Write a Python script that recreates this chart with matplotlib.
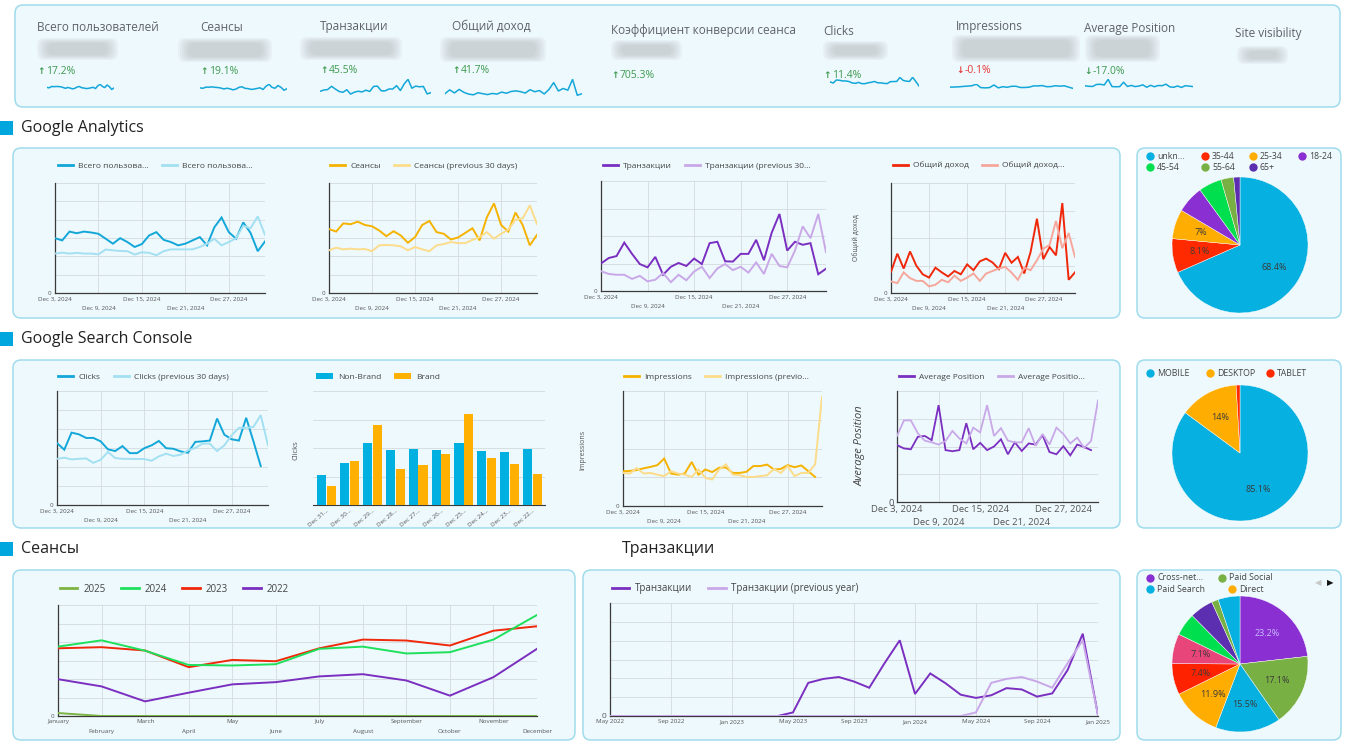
import numpy as np
import matplotlib
matplotlib.use("Agg")
import matplotlib.pyplot as plt
from matplotlib.patches import FancyBboxPatch, Rectangle
from matplotlib.lines import Line2D

W, H = 1353, 753
plt.rcParams["font.family"] = ["Open Sans", "DejaVu Sans"]

# ---------------- data ----------------
kpi_titles = ["Всего пользователей", "Сеансы", "Транзакции", "Общий доход",
              "Коэффициент конверсии сеанса", "Clicks", "Impressions",
              "Average Position", "Site visibility"]
kpi_changes = ["17.2%", "19.1%", "45.5%", "41.7%", "705.3%", "11.4%", "-0.1%", "-17.0%", None]
kpi_up = [True, True, True, True, True, True, False, False, None]
kpi_good = [True, True, True, True, True, True, False, True, None]

day_ticks = [0, 6, 12, 18, 24]
day_labels = ["Dec 3, 2024", "Dec 9, 2024", "Dec 15, 2024", "Dec 21, 2024", "Dec 27, 2024"]

users = [2.99, 2.87, 3.35, 3.26, 3.35, 3.30, 3.23, 2.96, 2.69, 2.99, 2.78, 2.51, 2.67, 3.14, 3.32,
         2.90, 2.78, 2.60, 2.69, 2.87, 3.05, 2.60, 3.58, 4.12, 3.32, 2.96, 3.85, 3.28, 2.28, 2.81]
users_prev = [2.15, 2.20, 2.15, 2.19, 2.15, 2.15, 2.11, 2.37, 2.33, 2.29, 2.28, 2.10, 2.22, 2.19, 2.06,
              2.28, 2.38, 2.38, 2.38, 2.38, 2.51, 2.69, 2.96, 2.60, 2.78, 2.99, 3.67, 3.53, 4.18, 3.17]

sessions = [3.49, 3.35, 3.80, 3.75, 3.89, 3.71, 3.64, 3.41, 3.10, 3.37, 3.14, 2.74, 3.05, 3.71, 3.93,
            3.32, 3.23, 2.92, 3.03, 3.28, 3.53, 2.87, 4.12, 4.89, 3.71, 3.35, 4.39, 3.71, 2.60, 3.17]
sessions_prev = [2.33, 2.47, 2.38, 2.42, 2.38, 2.40, 2.28, 2.60, 2.62, 2.60, 2.55, 2.33, 2.51, 2.38, 2.28,
                 2.60, 2.67, 2.78, 2.72, 2.72, 2.90, 3.05, 3.32, 2.96, 3.23, 3.46, 4.00, 4.07, 4.78, 3.76]

transactions = [1.00, 1.20, 1.27, 1.76, 1.35, 0.98, 0.86, 1.24, 0.59, 0.88, 1.02, 0.91, 1.18, 0.98, 1.74,
                1.79, 1.08, 1.07, 1.35, 1.35, 1.86, 1.12, 2.12, 2.80, 1.47, 1.79, 1.68, 1.74, 0.61, 0.81]
transactions_prev = [0.72, 0.62, 0.59, 0.59, 0.44, 0.55, 0.35, 0.41, 0.65, 0.32, 0.59, 0.39, 0.71, 0.88, 0.47,
                     0.82, 0.98, 0.76, 0.88, 0.67, 1.04, 0.62, 1.35, 0.91, 0.86, 1.47, 2.35, 1.92, 2.80, 1.41]

revenue = [0.77, 1.43, 0.89, 1.51, 0.99, 0.68, 0.56, 0.92, 0.75, 0.60, 0.80, 0.68, 1.04, 0.83, 1.15,
           1.25, 1.11, 0.87, 1.46, 1.10, 1.31, 0.71, 1.49, 2.70, 1.23, 1.67, 1.37, 3.27, 0.48, 0.75]
revenue_prev = [0.42, 0.36, 0.75, 0.54, 0.44, 0.44, 0.24, 0.30, 0.48, 0.39, 0.63, 0.44, 0.56, 0.71, 0.44,
                0.71, 0.80, 0.89, 0.95, 0.74, 0.48, 0.92, 0.83, 1.19, 1.61, 1.75, 2.62, 1.63, 2.18, 1.31]

clicks = [3.26, 2.91, 3.81, 3.72, 3.53, 3.53, 3.35, 2.93, 2.84, 3.10, 2.73, 2.73, 2.99, 3.14, 3.37,
          2.99, 2.96, 2.82, 2.75, 3.32, 3.35, 3.39, 4.55, 3.70, 3.46, 3.39, 4.59, 3.35, 2.05]
clicks_prev = [2.43, 2.49, 2.40, 2.43, 2.45, 2.22, 2.38, 2.79, 2.47, 2.43, 2.43, 2.42, 2.42, 2.33, 2.56,
               2.70, 2.58, 2.65, 2.88, 3.00, 3.23, 3.23, 2.84, 3.14, 3.67, 4.06, 4.06, 4.11, 4.73, 3.14]

bar_dates = ["Dec 31...", "Dec 30...", "Dec 29...", "Dec 28...", "Dec 27...",
             "Dec 26...", "Dec 25...", "Dec 24...", "Dec 23...", "Dec 22..."]
non_brand = [1.06, 1.47, 2.16, 1.92, 1.95, 1.92, 2.16, 1.88, 1.86, 1.95]
brand = [0.68, 1.56, 2.80, 1.26, 1.42, 1.78, 3.19, 1.65, 1.45, 1.08]

impressions = [1.21, 1.22, 1.25, 1.31, 1.36, 1.42, 1.65, 1.13, 1.09, 1.13, 1.53, 1.09, 1.27, 1.18, 1.33,
               1.34, 1.15, 1.15, 1.19, 1.39, 1.39, 1.44, 1.27, 1.29, 1.42, 1.35, 1.41, 1.21, 1.01]
impressions_prev = [1.15, 1.13, 1.32, 1.13, 1.15, 1.09, 1.04, 1.21, 1.13, 1.09, 1.01, 1.27, 0.98, 0.92, 1.27,
                    1.45, 1.09, 1.07, 1.01, 1.01, 1.04, 1.07, 1.29, 1.15, 1.39, 1.04, 1.15, 1.15, 1.45, 3.80]

avg_pos = [2.05, 1.93, 1.90, 2.35, 2.38, 2.23, 3.49, 1.87, 1.83, 1.87, 2.84, 1.90, 2.13, 1.87, 2.00,
           2.26, 1.72, 2.15, 1.84, 2.11, 2.07, 2.41, 1.80, 1.72, 2.01, 1.68, 2.07, 1.98, 1.87]
avg_pos_prev = [2.38, 2.94, 2.94, 2.48, 2.21, 2.15, 2.07, 2.20, 2.56, 2.29, 2.11, 2.68, 2.51, 3.49, 2.38,
                2.66, 2.21, 2.15, 2.15, 2.66, 2.02, 2.45, 2.07, 2.68, 2.45, 2.11, 2.32, 1.95, 2.20, 3.66]

months = ["January", "February", "March", "April", "May", "June", "July",
          "August", "September", "October", "November", "December"]
sessions_2025 = [0.16, 0, 0, 0, 0, 0, 0, 0, 0, 0, 0, 0]
sessions_2024 = [3.75, 4.09, 3.53, 2.76, 2.73, 2.80, 3.63, 3.75, 3.38, 3.45, 4.13, 5.46]
sessions_2023 = [3.66, 3.72, 3.54, 2.64, 3.03, 2.96, 3.66, 4.13, 4.08, 3.81, 4.61, 4.85]
sessions_2022 = [1.99, 1.60, 0.79, 1.26, 1.71, 1.83, 2.14, 2.26, 1.92, 1.10, 2.10, 3.63]

# monthly, May 2022 .. Jan 2025
tr_month_ticks = [0, 4, 8, 12, 16, 20, 24, 28, 32]
tr_month_labels = ["May 2022", "Sep 2022", "Jan 2023", "May 2023", "Sep 2023",
                   "Jan 2024", "May 2024", "Sep 2024", "Jan 2025"]
tr_monthly = [0] * 12 + [0.19, 1.76, 1.97, 2.07, 1.83, 1.50, 2.80, 4.02, 1.17, 2.26, 1.74, 1.13,
                         0.96, 1.10, 1.48, 1.41, 1.03, 1.20, 2.43, 4.37, 0.05]
tr_monthly_prev = [0] * 24 + [0.19, 1.76, 1.97, 2.07, 1.83, 1.50, 2.80, 4.02, 0.05]

age_groups = ["unkn...", "35-44", "25-34", "18-24", "45-54", "55-64", "65+"]
age_share = [68.4, 8.1, 7.0, 6.5, 5.5, 3.0, 1.5]
devices = ["MOBILE", "DESKTOP", "TABLET"]
device_share = [85.1, 14.0, 0.9]
channels = ["Cross-net...", "Paid Social", "Paid Search", "Direct",
            "Channel 5", "Channel 6", "Channel 7", "Channel 8", "Channel 9", "Channel 10"]
channel_share = [23.2, 17.1, 15.5, 11.9, 7.4, 7.1, 5.4, 5.6, 1.6, 5.2]

# ---------------- colours ----------------
C_BLUE, C_BLUE_L = "#13a7d9", "#a3e0f1"
C_ORANGE, C_ORANGE_L = "#f5b300", "#fcdc8a"
C_PURPLE, C_PURPLE_L = "#7a2fc0", "#c9a8e8"
C_RED, C_RED_L = "#f0280a", "#f6a79c"
PANEL_FC, PANEL_EC = "#eef9fd", "#9fdcec"
GRID = "#d4dadf"
TICK = "#555555"

fig = plt.figure(figsize=(W / 100, H / 100), dpi=100)
fig.patch.set_facecolor("white")

bg = fig.add_axes([0, 0, 1, 1])
bg.set_xlim(0, W)
bg.set_ylim(H, 0)
bg.axis("off")


def px_axes(l, t, r, b):
    ax = fig.add_axes([l / W, 1 - b / H, (r - l) / W, (b - t) / H])
    ax.set_facecolor("none")
    return ax


def panel(l, t, r, b):
    bg.add_patch(FancyBboxPatch((l, t), r - l, b - t, boxstyle="round,pad=0,rounding_size=8",
                                fc=PANEL_FC, ec=PANEL_EC, lw=1.1))


def blur_box(l, t, r, b):
    for k in range(6):
        d = k * 2.0
        bg.add_patch(FancyBboxPatch((l + d, t + d * 0.5), r - l - 2 * d, b - t - d,
                                    boxstyle="round,pad=0,rounding_size=7",
                                    fc="#a3a7ab", ec="none", alpha=0.09))


def fig_legend(ax, handles, labels, x, y, fs=6, ncol=2, hl=1.8):
    ax.legend(handles, labels, loc="center left", bbox_to_anchor=(x / W, 1 - y / H),
              bbox_transform=fig.transFigure, ncol=ncol, frameon=False, fontsize=fs,
              handlelength=hl, handletextpad=0.6, columnspacing=1.6, borderpad=0,
              labelcolor="#444444")


def trend(rect, series, names, colors, ymax, ngrid, n, ticks, ticklabels, leg_xy,
          tick_fs=4.5, leg_fs=6, lw=1.4, stagger=True):
    ax = px_axes(*rect)
    for vals, c in zip(series, colors):
        ax.plot(range(len(vals)), vals, color=c, lw=lw, solid_joinstyle="miter", zorder=3)
    ax.set_xlim(0, n - 1)
    ax.set_ylim(0, ymax)
    ax.set_yticks(np.linspace(0, ymax, ngrid + 1))
    ax.set_yticklabels(["0"] + [""] * ngrid)
    if stagger:
        ax.set_xticks(ticks[::2])
        ax.set_xticklabels(ticklabels[::2])
        ax.set_xticks(ticks[1::2], minor=True)
        ax.set_xticklabels(ticklabels[1::2], minor=True)
    else:
        ax.set_xticks(ticks)
        ax.set_xticklabels(ticklabels)
    ax.grid(which="both", color=GRID, lw=0.6, zorder=0)
    for s in ["top", "right"]:
        ax.spines[s].set_visible(False)
    for s in ["left", "bottom"]:
        ax.spines[s].set_color("#3a3a3a")
        ax.spines[s].set_linewidth(0.9)
    ax.tick_params(which="both", length=0, labelsize=tick_fs, colors=TICK, pad=2.5)
    ax.tick_params(axis="x", which="minor", pad=2.5 + tick_fs + 2.2)
    handles = [Line2D([], [], color=c, lw=2) for c in colors]
    fig_legend(ax, handles, names, *leg_xy, fs=leg_fs, ncol=len(names))
    return ax


# ---------------- panels ----------------
for p in [(15, 5, 1340, 107), (13, 148, 1120, 318), (1137, 148, 1341, 318),
          (13, 360, 1120, 528), (1137, 360, 1341, 528), (13, 570, 575, 740),
          (583, 570, 1120, 740), (1137, 570, 1341, 740)]:
    panel(*p)

# section headers
for text, x, y, square in [("Google Analytics", 21, 128, True), ("Google Search Console", 21, 339, True),
                           ("Сеансы", 21, 549, True), ("Транзакции", 622, 549, False)]:
    if square:
        bg.add_patch(Rectangle((0, y - 7), 13, 14, fc="#00a6de", ec="none"))
    bg.text(x, y, text, fontsize=11.5, color="#222222", va="center", ha="left")

# ---------------- KPI strip ----------------
kpi_layout = [
    (37, 27, (37, 38, 118, 60), 71, (47, 84, 114, 96)),
    (200, 27, (178, 38, 272, 62), 71, (200, 84, 287, 97)),
    (320, 26, (300, 37, 402, 60), 70, (320, 79, 431, 98)),
    (452, 26, (440, 37, 546, 62), 70, (445, 79, 582, 98)),
    (611, 30, (611, 40, 682, 60), 75, None),
    (823, 31, (823, 41, 888, 60), 75, (830, 77, 919, 93)),
    (956, 26, (952, 35, 1080, 62), 70, (950, 84, 1073, 95)),
    (1084, 28, (1085, 35, 1160, 62), 71, (1085, 79, 1193, 95)),
    (1235, 33, (1237, 46, 1288, 64), None, None),
]
sparks = [users, sessions, transactions, revenue, None, clicks, impressions, avg_pos, None]

for i, (tx, ty, blob, cy, srect) in enumerate(kpi_layout):
    bg.text(tx, ty, kpi_titles[i], fontsize=8.5, color="#5f6368", va="center", ha="left")
    blur_box(*blob)
    if kpi_changes[i] is not None:
        col = "#3d9a4e" if kpi_good[i] else "#e53935"
        arrow = "↑" if kpi_up[i] else "↓"
        bg.text(tx, cy, arrow, fontsize=6.5, color=col, va="center", ha="left",
                fontweight="bold", family=["DejaVu Sans"])
        bg.text(tx + 9, cy, kpi_changes[i], fontsize=7.5, color=col, va="center", ha="left")
    if srect is not None:
        sax = px_axes(*srect)
        sax.plot(range(len(sparks[i])), sparks[i], color=C_BLUE, lw=1.1)
        sax.set_xlim(0, len(sparks[i]) - 1)
        sax.set_ylim(0, max(sparks[i]) * 1.02)
        sax.axis("off")

# ---------------- Google Analytics ----------------
trend((55, 183, 265, 293), [users, users_prev], ["Всего пользова...", "Всего пользова..."],
      [C_BLUE, C_BLUE_L], 6, 6, 30, day_ticks, day_labels, (54, 166))
trend((329, 183, 537, 293), [sessions, sessions_prev], ["Сеансы", "Сеансы (previous 30 days)"],
      [C_ORANGE, C_ORANGE_L], 6, 6, 30, day_ticks, day_labels, (326, 166))
trend((601, 181, 826, 291), [transactions, transactions_prev], ["Транзакции", "Транзакции (previous 30..."],
      [C_PURPLE, C_PURPLE_L], 4, 4, 30, day_ticks, day_labels, (599, 166))
trend((891, 183, 1075, 293), [revenue, revenue_prev], ["Общий доход", "Общий доход..."],
      [C_RED, C_RED_L], 4, 4, 30, day_ticks, day_labels, (889, 166))
bg.text(857, 238, "Общий доход", fontsize=5, color=TICK, rotation=90, va="center", ha="center")


def pie(center, radius, shares, colors, text_colors=None):
    cx, cy = center
    ax = px_axes(cx - radius, cy - radius, cx + radius, cy + radius)
    fmt = lambda p: (f"{p:.1f}".rstrip("0").rstrip(".") + "%") if round(p, 1) >= 7 else ""
    wedges, _, autotexts = ax.pie(shares, colors=colors, startangle=90, counterclock=False,
                                  autopct=fmt, pctdistance=0.6,
                                  wedgeprops=dict(edgecolor="white", linewidth=0.3),
                                  textprops=dict(fontsize=6.5, color="#3a3a3a"))
    if text_colors:
        for t, c in zip(autotexts, text_colors):
            if c:
                t.set_color(c)
    ax.set_xlim(-1, 1)
    ax.set_ylim(-1, 1)
    ax.set_aspect("equal")
    return ax


def dot_legend(items, colors, positions, fs=6.3):
    for name, c, (x, y) in zip(items, colors, positions):
        bg.plot([x], [y], marker="o", ms=6, color=c, mec="none")
        bg.text(x + 7, y, name, fontsize=fs, color="#444444", va="center", ha="left")


age_colors = ["#06b0e0", "#ff2a00", "#ffad00", "#8a2fd2", "#00e04e", "#78b043", "#5b2fb0"]
pie((1240, 245), 68, age_share, age_colors)
dot_legend(age_groups, age_colors,
           [(1150, 156), (1205, 156), (1253, 156), (1302, 156), (1150, 167), (1205, 167), (1253, 167)])

# ---------------- Google Search Console ----------------
trend((57, 391, 268, 505), [clicks, clicks_prev], ["Clicks", "Clicks (previous 30 days)"],
      [C_BLUE, C_BLUE_L], 6, 6, 30, day_ticks, day_labels, (54, 377))

axb = px_axes(313, 391, 545, 505)
xb = np.arange(len(bar_dates))
axb.bar(xb - 0.215, non_brand, 0.4, color="#00b0e0", zorder=3)
axb.bar(xb + 0.215, brand, 0.4, color="#ffb000", zorder=3)
axb.set_xlim(-0.6, 9.55)
axb.set_ylim(0, 4)
axb.set_yticks([0, 1, 2, 3, 4])
axb.set_yticklabels([])
axb.set_xticks(xb)
axb.set_xticklabels(bar_dates, rotation=40, ha="right", rotation_mode="anchor")
axb.grid(axis="y", color=GRID, lw=0.6, zorder=0)
for s in ["top", "right", "left"]:
    axb.spines[s].set_visible(False)
axb.spines["bottom"].set_color("#3a3a3a")
axb.tick_params(length=0, labelsize=4.5, colors=TICK, pad=2)
fig_legend(axb, [Rectangle((0, 0), 1, 1, fc="#00b0e0"), Rectangle((0, 0), 1, 1, fc="#ffb000")],
           ["Non-Brand", "Brand"], 312, 377, hl=2.0)
bg.text(296, 450, "Clicks", fontsize=5.5, color=TICK, rotation=90, va="center", ha="center")

trend((623, 391, 822, 506), [impressions, impressions_prev], ["Impressions", "Impressions (previo..."],
      [C_ORANGE, C_ORANGE_L], 4, 4, 30, day_ticks, day_labels, (620, 377))
bg.text(583, 450, "Impressions", fontsize=5, color=TICK, rotation=90, va="center", ha="center")

trend((897, 391, 1098, 502), [avg_pos, avg_pos_prev], ["Average Position", "Average Positio..."],
      [C_PURPLE, C_PURPLE_L], 4, 4, 30, day_ticks, day_labels, (895, 377), tick_fs=6.8, lw=1.3)
bg.text(860, 446, "Average Position", fontsize=8, color="#444444", rotation=90, va="center",
        ha="center", style="italic")

device_colors = ["#06b0e0", "#ffad00", "#ff2a00"]
pie((1240, 453), 68, device_share, device_colors)
dot_legend(devices, device_colors, [(1150, 373), (1210, 373), (1270, 373)])

# ---------------- yearly charts ----------------
axy = trend((58, 605, 537, 716), [sessions_2022, sessions_2023, sessions_2024, sessions_2025],
            ["2022", "2023", "2024", "2025"], [C_PURPLE, C_RED, "#1ee05c", "#7cb342"],
            6, 6, 12, list(range(12)), months, (55, 589), leg_fs=7)
# legend order as in the dashboard
fig_legend(axy, [Line2D([], [], color=c, lw=2) for c in ["#7cb342", "#1ee05c", C_RED, C_PURPLE]],
           ["2025", "2024", "2023", "2022"], 55, 589, fs=7, ncol=4)

axt = trend((610, 603, 1098, 716), [tr_monthly, tr_monthly_prev],
            ["Транзакции", "Транзакции (previous year)"], [C_PURPLE, C_PURPLE_L],
            6, 6, 33, tr_month_ticks, tr_month_labels, (607, 589), leg_fs=7, stagger=False)
axt.tick_params(axis="y", labelsize=6)

ch_colors = ["#8a2fd2", "#78b043", "#06b0e0", "#ffad00", "#ff2200",
             "#e8457a", "#00e04e", "#5b2fb0", "#78b043", "#06b0e0"]
pie((1240, 664), 68, channel_share, ch_colors, text_colors=["#c9bcff"])
dot_legend(channels[:4], ch_colors[:4], [(1150, 578), (1222, 578), (1150, 589), (1232, 589)])
bg.text(1318, 583, "◀", fontsize=6, color="#c8c8c8", va="center", ha="center", family=["DejaVu Sans"])
bg.text(1330, 583, "▶", fontsize=6, color="#111111", va="center", ha="center", family=["DejaVu Sans"])

fig.savefig("out.png", dpi=100)
